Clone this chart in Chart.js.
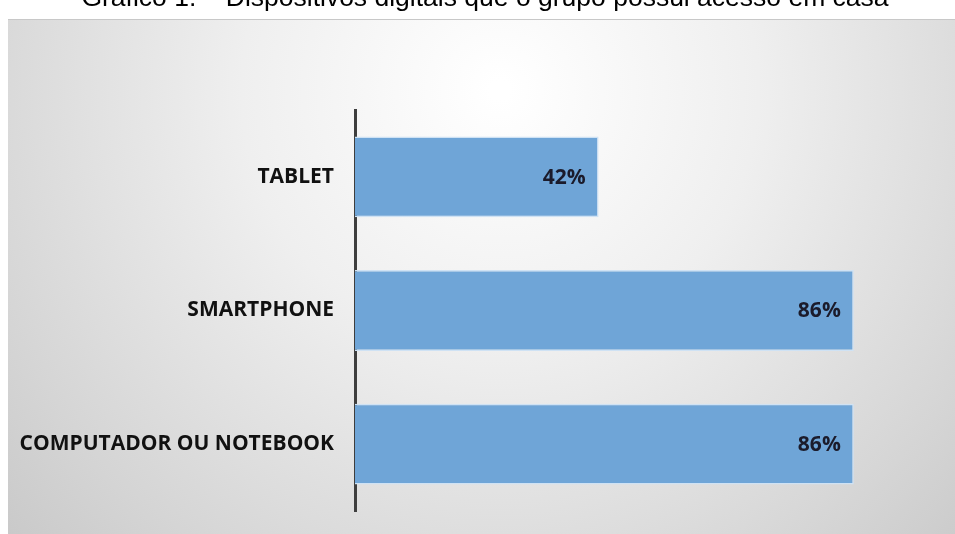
<!DOCTYPE html>
<html>
<head>
<meta charset="utf-8">
<script src="https://cdn.jsdelivr.net/npm/chart.js@4"></script>
<style>
  html, body { margin: 0; padding: 0; background: #ffffff; }
  #wrap { position: relative; width: 955px; height: 534px; }
</style>
</head>
<body>
<div id="wrap"><canvas id="c" width="955" height="534"></canvas></div>
<script>
// Chart content
const chartTitle = 'Gráfico 1. – Dispositivos digitais que o grupo possui acesso em casa';
const categories = ['TABLET', 'SMARTPHONE', 'COMPUTADOR OU NOTEBOOK'];
const percentages = [42, 86, 86];
const valueLabels = ['42%', '86%', '86%'];

// Grey radial-gradient panel behind the plot, plus the caption above it
const panelPlugin = {
  id: 'panel',
  beforeDraw(chart) {
    const ctx = chart.ctx;
    const W = chart.width, H = chart.height;
    ctx.save();
    ctx.fillStyle = '#ffffff';
    ctx.fillRect(0, 0, W, H);
    const g = ctx.createRadialGradient(500, 90, 10, 500, 90, 720);
    g.addColorStop(0, '#ffffff');
    g.addColorStop(0.35, '#efefef');
    g.addColorStop(0.75, '#d5d5d5');
    g.addColorStop(1, '#c4c4c4');
    ctx.fillStyle = g;
    ctx.fillRect(8, 20, W - 8, H - 20);
    ctx.fillStyle = '#c8c8c8';
    ctx.fillRect(8, 19, W - 8, 1);
    ctx.fillStyle = '#000000';
    ctx.font = '26.5px "Liberation Sans", Arial, sans-serif';
    ctx.textAlign = 'center';
    ctx.textBaseline = 'alphabetic';
    ctx.fillText(chartTitle, 485, 6);
    ctx.restore();
  }
};

// Value text placed inside the end of each bar
const valueLabelPlugin = {
  id: 'valueLabels',
  afterDatasetsDraw(chart) {
    const ctx = chart.ctx;
    const meta = chart.getDatasetMeta(0);
    ctx.save();
    ctx.font = 'bold 21px "Open Sans", sans-serif';
    ctx.fillStyle = '#1b1b2b';
    ctx.textAlign = 'right';
    ctx.textBaseline = 'middle';
    meta.data.forEach((bar, i) => {
      ctx.fillText(valueLabels[i], bar.x - 13, bar.y + 1);
    });
    ctx.restore();
  }
};

new Chart(document.getElementById('c'), {
  type: 'bar',
  data: {
    labels: categories,
    datasets: [{
      data: percentages,
      backgroundColor: '#6fa5d7',
      borderColor: '#cfe2f4',
      borderWidth: 1.5,
      borderSkipped: 'start',
      barPercentage: 0.605,
      categoryPercentage: 1
    }]
  },
  options: {
    indexAxis: 'y',
    responsive: false,
    animation: false,
    layout: { padding: { left: 0, top: 110, right: 20, bottom: 23 } },
    plugins: {
      legend: { display: false },
      tooltip: { enabled: false },
      title: { display: false }
    },
    scales: {
      x: {
        display: false,
        min: 0,
        max: 100
      },
      y: {
        afterFit(scale) {
          scale.width = 355;
          scale.paddingTop = 0;
          scale.paddingBottom = 0;
        },
        grid: { display: false, drawTicks: false },
        border: { display: true, color: '#3e3e3e', width: 3 },
        ticks: {
          padding: 21,
          color: '#111111',
          font: { family: '"Open Sans", sans-serif', size: 21, weight: 'bold' }
        }
      }
    }
  },
  plugins: [panelPlugin, valueLabelPlugin]
});
</script>
</body>
</html>
